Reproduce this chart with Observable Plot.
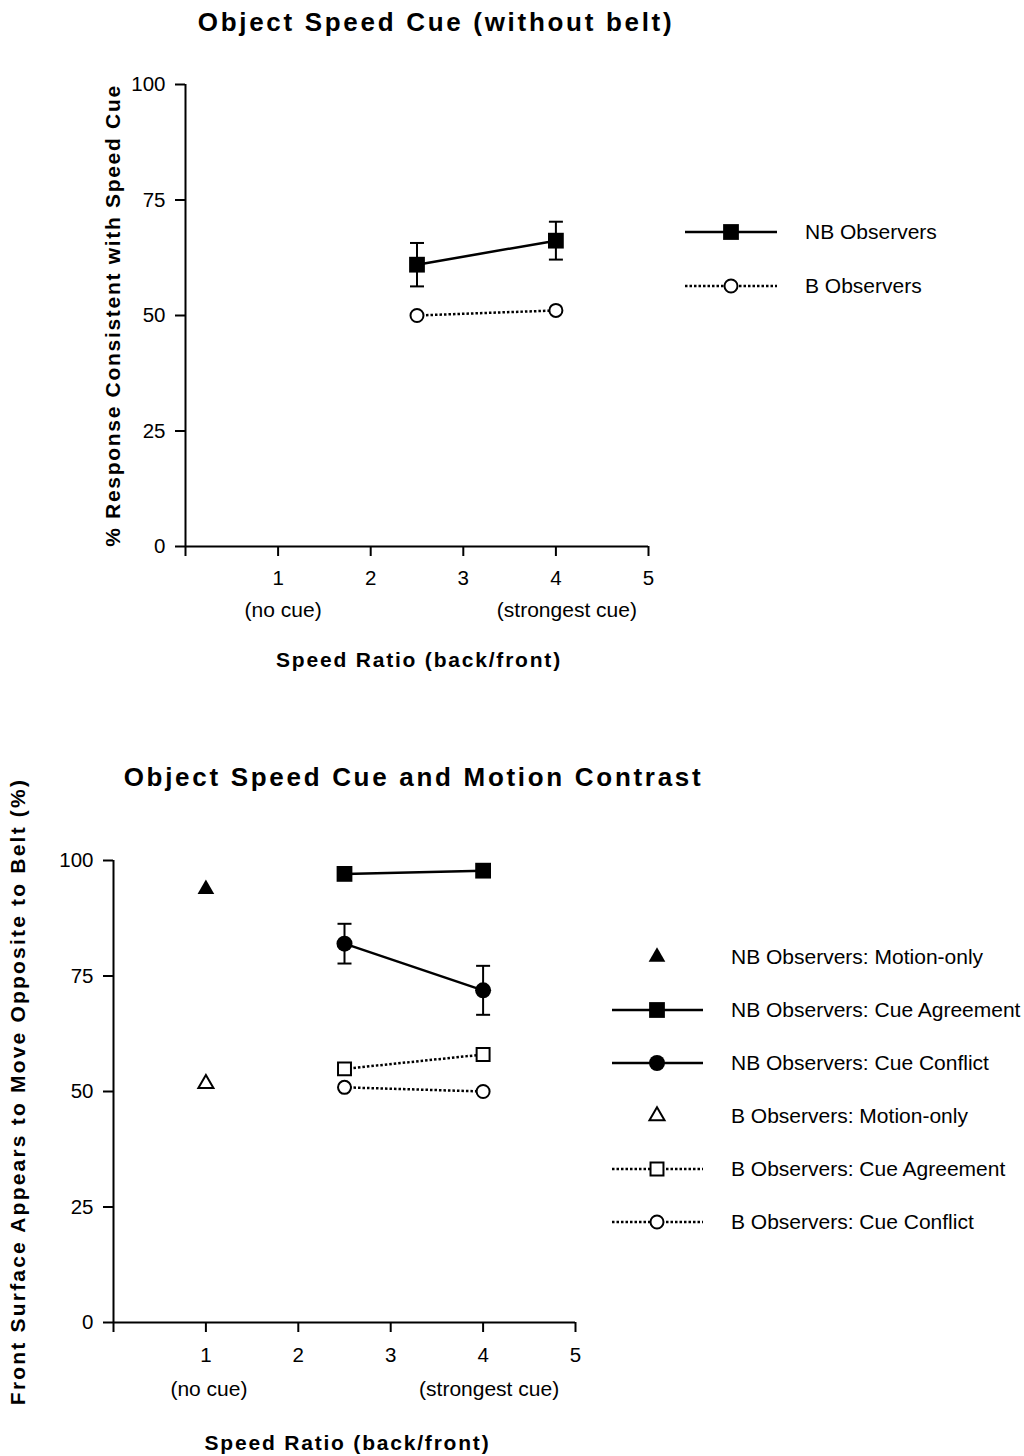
<!DOCTYPE html>
<html>
<head>
<meta charset="utf-8">
<script src="https://cdn.jsdelivr.net/npm/d3@7"></script>
<script src="https://cdn.jsdelivr.net/npm/@observablehq/plot@0.6"></script>
<style>
  html, body { margin: 0; padding: 0; background: white; }
  #page { position: relative; width: 1024px; height: 1456px; background: white; }
  #page svg { position: absolute; left: 0; }
</style>
</head>
<body>
<div id="page"></div>
<script>
// ---------------- data ----------------
const xTicks = [0, 1, 2, 3, 4, 5];
const yTicks = [0, 25, 50, 75, 100];
const speedRatio = [2.5, 4];

// Chart 1: Object Speed Cue (without belt)
const nbConsistent = [61.0, 66.2];
const nbConsistentErr = [4.7, 4.1];
const bConsistent = [50.0, 51.1];

// Chart 2: Object Speed Cue and Motion Contrast
const motionOnlyRatio = [1];
const nbMotionOnly = [93.8];
const bMotionOnly = [51.7];
const nbAgreement = [97.1, 97.8];
const nbConflict = [82.0, 71.9];
const nbConflictErr = [4.3, 5.3];
const bAgreement = [54.9, 58.0];
const bConflict = [50.9, 50.0];

const cueNotes = [{x: 1, label: "(no cue)"}, {x: 4, label: "(strongest cue)"}];

const legend1 = ["NB Observers", "B Observers"];
const legend2 = ["NB Observers: Motion-only", "NB Observers: Cue Agreement", "NB Observers: Cue Conflict",
                 "B Observers: Motion-only", "B Observers: Cue Agreement", "B Observers: Cue Conflict"];

// ---------------- helpers ----------------
const rows = (xs, ys, es) => xs.map((x, i) => ({x, y: ys[i], e: es ? es[i] : 0}));
const FONT = "'Liberation Sans', Arial, Helvetica, sans-serif";
const DOT = "2.5,2";
const capSymbol = {draw(ctx, size) { const w = Math.sqrt(size) / 2; ctx.moveTo(-w, 0); ctx.lineTo(w, 0); }};

function errorMarks(data) {
  return [
    Plot.ruleX(data, {x: "x", y1: d => d.y - d.e, y2: d => d.y + d.e, stroke: "black", strokeWidth: 2}),
    Plot.dot(data, {x: "x", y: d => d.y + d.e, symbol: capSymbol, r: 7.9, stroke: "black", strokeWidth: 2, fill: "none"}),
    Plot.dot(data, {x: "x", y: d => d.y - d.e, symbol: capSymbol, r: 7.9, stroke: "black", strokeWidth: 2, fill: "none"})
  ];
}

function frameMarks(o) {
  return [
    Plot.ruleX([0], {y1: 0, y2: 100, stroke: "black", strokeWidth: 2}),
    Plot.ruleY([0], {x1: 0, x2: 5, stroke: "black", strokeWidth: 2}),
    Plot.axisY({ticks: yTicks, tickSize: 10, tickPadding: o.yPad, strokeWidth: 2, fontSize: 20.5, label: null}),
    Plot.axisX({ticks: xTicks, tickSize: 10, tickPadding: o.xPad, strokeWidth: 2, fontSize: 20.5,
                tickFormat: d => d === 0 ? "" : String(d), label: null}),
    Plot.text(cueNotes.slice(0, 1), {x: "x", text: "label", frameAnchor: "bottom", lineAnchor: "middle", dy: o.noteDy, dx: o.noteDx[0], fontSize: 21}),
    Plot.text(cueNotes.slice(1), {x: "x", text: "label", frameAnchor: "bottom", lineAnchor: "middle", dy: o.noteDy, dx: o.noteDx[1], fontSize: 21}),
    Plot.text([o.title], {text: d => d, frameAnchor: "top", lineAnchor: "middle", dx: o.titleDx, dy: o.titleDy, fontSize: 26, fontWeight: "bold"}),
    Plot.text(["Speed Ratio (back/front)"], {text: d => d, frameAnchor: "bottom", lineAnchor: "middle", dx: o.xlabDx, dy: o.xlabDy, fontSize: 21, fontWeight: "bold"}),
    Plot.text([o.ylabel], {text: d => d, frameAnchor: "left", textAnchor: "middle", lineAnchor: "middle", rotate: -90, dx: o.ylabDx, fontSize: 21, fontWeight: "bold"})
  ];
}

function spacing(svg, map) {
  svg.querySelectorAll("text").forEach(t => {
    const s = map[t.textContent];
    if (s != null) t.setAttribute("letter-spacing", s);
  });
}

const page = document.getElementById("page");

// ---------------- chart 1 ----------------
const nbTop = rows(speedRatio, nbConsistent, nbConsistentErr);
const bTop = rows(speedRatio, bConsistent);
const title1 = "Object Speed Cue (without belt)";
const ylab1 = "% Response Consistent with Speed Cue";
const chart1 = Plot.plot({
  width: 1024, height: 700,
  marginLeft: 185, marginRight: 376, marginTop: 84, marginBottom: 154,
  x: {domain: [0, 5]}, y: {domain: [0, 100]},
  style: {fontFamily: FONT, fontSize: "20px", color: "black", background: "white", overflow: "visible"},
  marks: [
    ...frameMarks({yPad: 10, xPad: 14, noteDy: 64, noteDx: [5, 11], title: title1, titleDx: 19, titleDy: -62,
                   xlabDx: 2, xlabDy: 114, ylabel: ylab1, ylabDx: -72}),
    ...errorMarks(nbTop),
    Plot.line(bTop, {x: "x", y: "y", stroke: "black", strokeWidth: 2.5, strokeDasharray: DOT, strokeLinecap: "butt"}),
    Plot.line(nbTop, {x: "x", y: "y", stroke: "black", strokeWidth: 2.5}),
    Plot.dot(bTop, {x: "x", y: "y", symbol: "circle", r: 6.5, fill: "white", stroke: "black", strokeWidth: 2}),
    Plot.dot(nbTop, {x: "x", y: "y", symbol: "square", r: 8.9, fill: "black"})
  ]
});
chart1.style.top = "0px";
spacing(chart1, {[title1]: 2.7, [ylab1]: 1.7, "Speed Ratio (back/front)": 1.8});
page.appendChild(chart1);

// ---------------- chart 2 ----------------
const nbMo = rows(motionOnlyRatio, nbMotionOnly);
const bMo = rows(motionOnlyRatio, bMotionOnly);
const nbAg = rows(speedRatio, nbAgreement);
const nbCf = rows(speedRatio, nbConflict, nbConflictErr);
const bAg = rows(speedRatio, bAgreement);
const bCf = rows(speedRatio, bConflict);
const title2 = "Object Speed Cue and Motion Contrast";
const ylab2 = "Front Surface Appears to Move Opposite to Belt (%)";
const chart2 = Plot.plot({
  width: 1024, height: 756,
  marginLeft: 113, marginRight: 449, marginTop: 160, marginBottom: 134,
  x: {domain: [0, 5]}, y: {domain: [0, 100]},
  style: {fontFamily: FONT, fontSize: "20px", color: "black", background: "white", overflow: "visible"},
  marks: [
    ...frameMarks({yPad: 10, xPad: 15, noteDy: 67, noteDx: [3, 6], title: title2, titleDx: 69, titleDy: -83,
                   xlabDx: 3, xlabDy: 121, ylabel: ylab2, ylabDx: -95}),
    ...errorMarks(nbCf),
    Plot.line(bAg, {x: "x", y: "y", stroke: "black", strokeWidth: 2.5, strokeDasharray: DOT, strokeLinecap: "butt"}),
    Plot.line(bCf, {x: "x", y: "y", stroke: "black", strokeWidth: 2.5, strokeDasharray: DOT, strokeLinecap: "butt"}),
    Plot.line(nbAg, {x: "x", y: "y", stroke: "black", strokeWidth: 2.5}),
    Plot.line(nbCf, {x: "x", y: "y", stroke: "black", strokeWidth: 2.5}),
    Plot.dot(nbMo, {x: "x", y: "y", symbol: "triangle", r: 6.2, fill: "black"}),
    Plot.dot(bMo, {x: "x", y: "y", symbol: "triangle", r: 5.6, fill: "white", stroke: "black", strokeWidth: 2}),
    Plot.dot(nbAg, {x: "x", y: "y", symbol: "square", r: 8.9, fill: "black"}),
    Plot.dot(nbCf, {x: "x", y: "y", symbol: "circle", r: 8, fill: "black"}),
    Plot.dot(bAg, {x: "x", y: "y", symbol: "square", r: 7.3, fill: "white", stroke: "black", strokeWidth: 2}),
    Plot.dot(bCf, {x: "x", y: "y", symbol: "circle", r: 6.5, fill: "white", stroke: "black", strokeWidth: 2})
  ]
});
chart2.style.top = "700px";
spacing(chart2, {[title2]: 2.7, [ylab2]: 2.2, "Speed Ratio (back/front)": 1.8});
page.appendChild(chart2);

// ---------------- legends ----------------
const styles = {
  "NB Observers": {sym: d3.symbolSquare, r: 8.9, fill: "black", line: "solid"},
  "B Observers": {sym: d3.symbolCircle, r: 6.5, fill: "white", line: "dotted"},
  "NB Observers: Motion-only": {sym: d3.symbolTriangle, r: 6.2, fill: "black", line: null},
  "NB Observers: Cue Agreement": {sym: d3.symbolSquare, r: 8.9, fill: "black", line: "solid"},
  "NB Observers: Cue Conflict": {sym: d3.symbolCircle, r: 8, fill: "black", line: "solid"},
  "B Observers: Motion-only": {sym: d3.symbolTriangle, r: 5.6, fill: "white", line: null},
  "B Observers: Cue Agreement": {sym: d3.symbolSquare, r: 7.3, fill: "white", line: "dotted"},
  "B Observers: Cue Conflict": {sym: d3.symbolCircle, r: 6.5, fill: "white", line: "dotted"}
};

const overlay = d3.select(page).append("svg")
  .attr("width", 1024).attr("height", 1456)
  .style("top", "0px").style("pointer-events", "none")
  .attr("font-family", FONT).attr("font-size", 21);

function drawLegend(items, o) {
  const g = overlay.append("g");
  items.forEach((label, i) => {
    const s = styles[label];
    const y = o.y0 + i * o.step;
    if (s.line) {
      g.append("line").attr("x1", o.x1).attr("x2", o.x2).attr("y1", y).attr("y2", y)
        .attr("stroke", "black").attr("stroke-width", 2.5)
        .attr("stroke-dasharray", s.line === "dotted" ? DOT : null);
    }
    const isOpen = s.fill === "white";
    const size = Math.PI * s.r * s.r;
    if (s.sym === d3.symbolCircle) {
      g.append("circle").attr("cx", o.xm).attr("cy", y).attr("r", s.r)
        .attr("fill", s.fill).attr("stroke", isOpen ? "black" : null).attr("stroke-width", isOpen ? 2 : null);
    } else {
      g.append("path").attr("d", d3.symbol(s.sym, size)()).attr("transform", `translate(${o.xm},${y})`)
        .attr("fill", s.fill).attr("stroke", isOpen ? "black" : null).attr("stroke-width", isOpen ? 2 : null);
    }
    g.append("text").attr("x", o.xt).attr("y", y).attr("dy", "0.35em").text(label);
  });
}
drawLegend(legend1, {x1: 685, x2: 777, xm: 731, xt: 805, y0: 232, step: 54});
drawLegend(legend2, {x1: 612, x2: 703, xm: 657, xt: 731, y0: 957, step: 53});
</script>
</body>
</html>
